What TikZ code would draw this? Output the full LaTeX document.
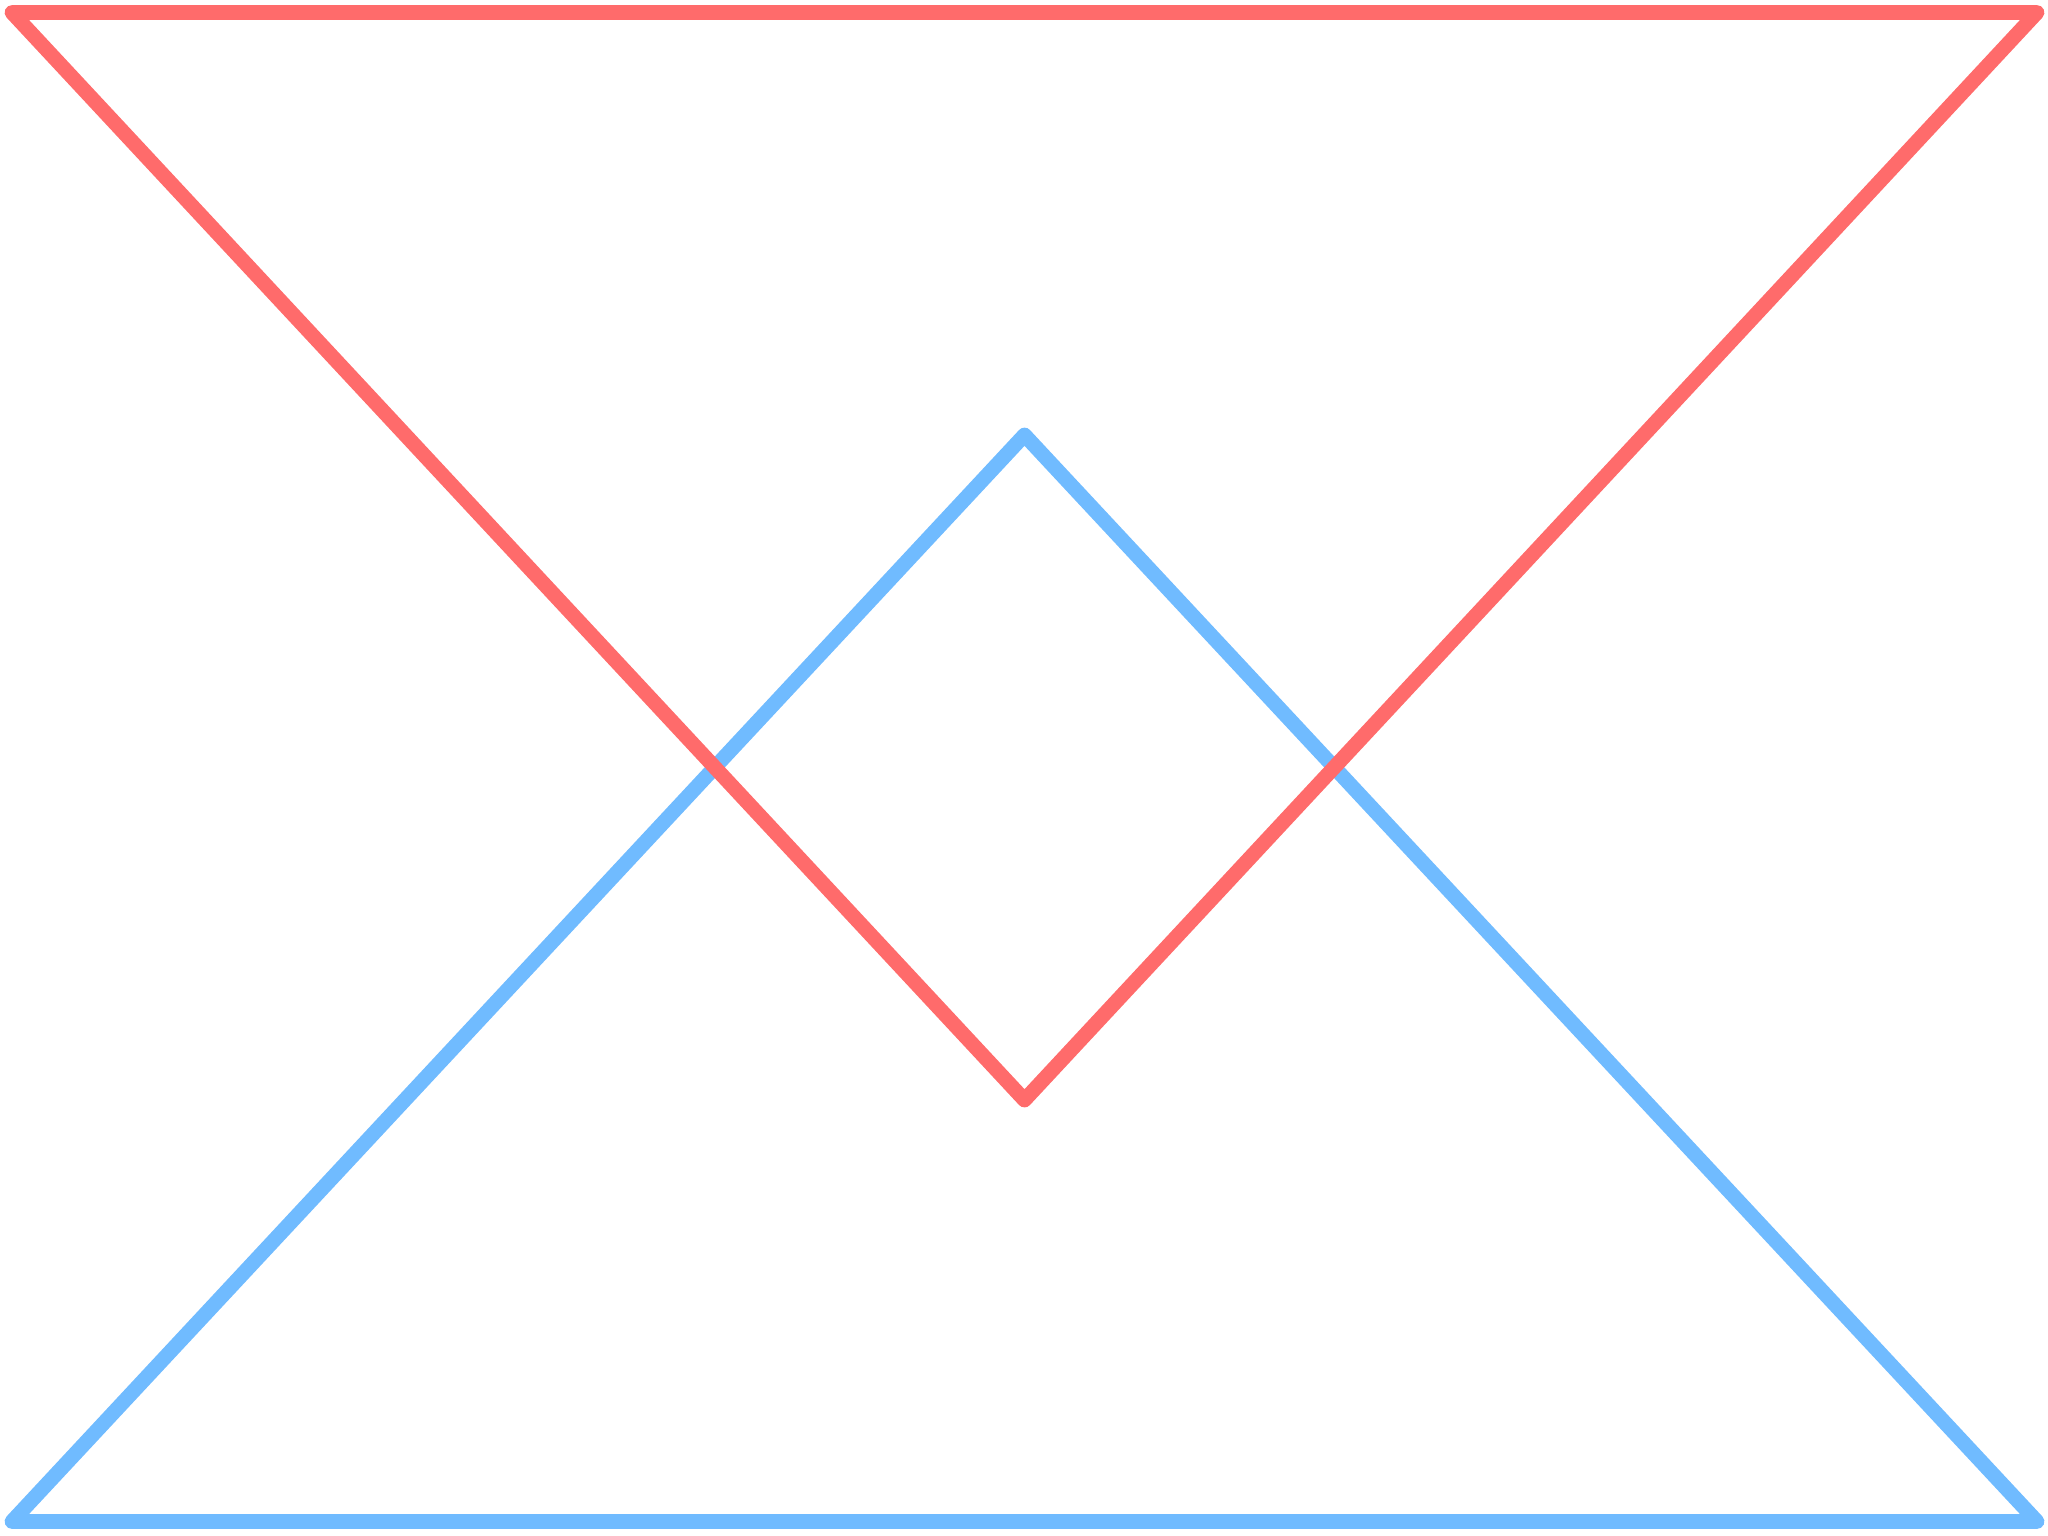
\documentclass[tikz,border=0pt]{standalone}
\usepackage{tikz}
\usetikzlibrary{calc}
\definecolor{softred}{RGB}{255,107,107}
\definecolor{softblue}{RGB}{112,187,255}

\begin{document}
\begin{tikzpicture}[x=0.01cm,y=-0.01cm]
        \useasboundingbox (0,0) rectangle (2048,1536);
        \coordinate (r1) at (12,12.5);
        \coordinate (r2) at (2037,12.5);
        \coordinate (r3) at (1024.5,1100);
        \coordinate (b1) at (12,1521.5);
        \coordinate (b2) at (2037,1521.5);
        \coordinate (b3) at (1024.5,435);
        %Lower triangle
        \draw[softblue, line width=4.2pt, line join=round] (b1) -- (b2) -- (b3) -- cycle;
        %Upper triangle
        \draw[softred, line width=4.2pt, line join=round] (r1) -- (r2) -- (r3) -- cycle;
      \end{tikzpicture}
\end{document}
